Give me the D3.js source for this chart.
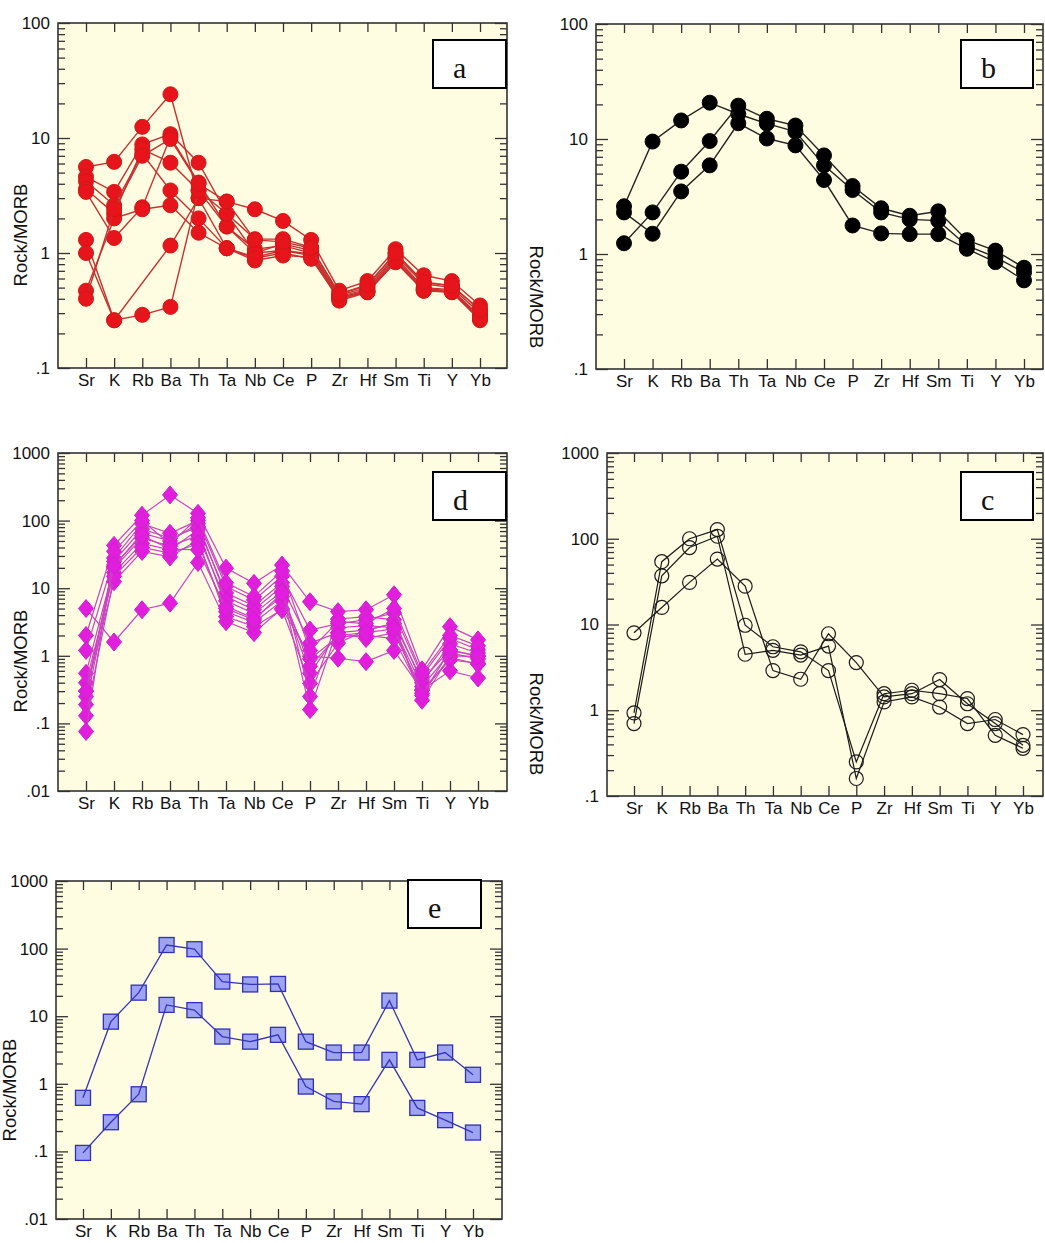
<!DOCTYPE html>
<html><head><meta charset="utf-8">
<script src="https://cdn.jsdelivr.net/npm/d3@7"></script>
<style>html,body{margin:0;padding:0;background:#fff;} svg{display:block}</style>
</head><body>
<svg id="chart" width="1045" height="1243"></svg>
<script>
// ---------------- DATA ----------------
const categories = ["Sr","K","Rb","Ba","Th","Ta","Nb","Ce","P","Zr","Hf","Sm","Ti","Y","Yb"];

// Panel a (red filled circles)
const seriesA = [
  [5.6, 6.2, 12.5, 24, 3.0, 2.8, 2.4, 1.9, 1.3, 0.47, 0.57, 1.08, 0.64, 0.57, 0.35],
  [4.6, 3.4, 8.8, 10.8, 6.1, 2.2, 1.32, 1.32, 1.12, 0.44, 0.52, 1.0, 0.55, 0.52, 0.32],
  [4.2, 2.6, 7.3, 3.5, 2.0, 1.1, 0.92, 1.05, 0.98, 0.40, 0.46, 0.85, 0.47, 0.46, 0.27],
  [3.6, 2.2, 8.0, 6.1, 3.5, 1.7, 1.08, 1.16, 1.0, 0.43, 0.50, 0.95, 0.54, 0.50, 0.30],
  [3.4, 1.35, 2.5, 10.2, 4.1, 1.7, 1.0, 1.2, 1.05, 0.42, 0.48, 0.92, 0.50, 0.48, 0.28],
  [1.3, 0.26, null, 1.16, 3.0, 1.1, 0.86, 0.95, 0.92, 0.385, 0.455, 0.83, 0.47, 0.455, 0.26],
  [1.0, 0.26, 0.29, 0.34, 3.5, 2.2, 1.0, 1.05, 0.95, 0.41, 0.47, 0.88, 0.49, 0.47, 0.28],
  [0.47, 2.0, 2.4, 2.6, 1.5, 1.1, 0.9, 1.0, 0.89, 0.40, 0.46, 0.85, 0.48, 0.46, 0.27],
  [0.40, 2.4, 7.0, 9.8, 4.0, 2.8, 1.3, 1.25, 1.1, 0.44, 0.53, 1.0, 0.56, 0.52, 0.32]
];

// Panel b (black filled circles)
const seriesB = [
  [2.6, 9.5, 14.5, 20.7, 16.5, 13.6, 11.6, 5.9, 3.6, 2.3, 2.0, 1.95, 1.18, 0.94, 0.69],
  [2.3, 1.5, 3.5, 5.9, 13.7, 10.1, 8.8, 4.4, 1.77, 1.51, 1.49, 1.49, 1.11, 0.85, 0.59],
  [1.24, 2.3, 5.2, 9.6, 19.5, 15.0, 13.1, 7.2, 3.9, 2.5, 2.15, 2.35, 1.32, 1.07, 0.76]
];

// Panel d (magenta diamonds)
const seriesD = [
  [5.0, 1.6, 4.8, 6.0, 24, 3.2, 2.2, 5.0, 0.98, 0.92, 0.82, 1.2, 0.31, 0.6, 0.47],
  [2.0, 43, 120, 240, 128, 19.8, 11.8, 22, 6.3, 4.5, 4.8, 8.0, 0.62, 2.7, 1.72],
  [1.2, 28, 90, 65, 100, 10.6, 6.7, 15, 2.4, 3.0, 3.4, 4.3, 0.5, 1.8, 1.23],
  [0.55, 21, 65, 50, 90, 7.5, 4.8, 10.6, 1.54, 2.2, 2.4, 3.0, 0.44, 1.23, 0.98],
  [0.4, 17, 46, 37, 73, 5.4, 3.6, 7.5, 0.55, 2.2, 1.8, 2.2, 0.31, 0.87, 0.78],
  [0.3, 12.5, 35, 29, 52, 3.8, 2.7, 4.8, 0.39, 1.54, 2.4, 3.0, 0.22, 1.0, 0.98],
  [0.25, 25, 75, 55, 80, 8.5, 5.5, 12, 0.25, 3.5, 3.8, 3.4, 0.4, 1.5, 1.1],
  [0.19, 20, 55, 42, 60, 6.5, 4.2, 9.0, 0.16, 2.6, 2.8, 2.6, 0.35, 1.1, 0.9],
  [0.13, 15, 40, 33, 45, 4.5, 3.1, 6.5, 0.9, 1.9, 2.0, 1.8, 0.28, 0.95, 0.75],
  [0.076, 35, 100, 45, 110, 12, 7.5, 18, 1.2, 3.2, 3.0, 5.0, 0.55, 2.0, 1.4],
  [0.3, 22, 60, 38, 37, 5.0, 3.4, 8.5, 0.7, 2.0, 2.2, 2.5, 0.26, 1.2, 1.0]
];

// Panel c (open black circles)
const seriesC = [
  [8.0, 15.8, 31, 58, 28, 2.9, 2.3, 7.8, 3.6, 1.43, 1.56, 2.28, 1.19, 0.70, 0.39],
  [0.93, 54, 100, 128, 9.8, 5.5, 4.8, 2.9, 0.25, 1.56, 1.71, 1.56, 1.37, 0.51, 0.36],
  [0.70, 37, 79, 107, 4.5, 5.0, 4.4, 5.6, 0.16, 1.25, 1.43, 1.09, 0.70, 0.78, 0.52]
];

// Panel e (blue squares)
const seriesE = [
  [0.62, 8.3, 22.3, 113, 98, 32.5, 29.5, 30, 4.2, 2.9, 2.9, 17.0, 2.26, 2.9, 1.36],
  [0.095, 0.27, 0.70, 14.7, 12.3, 5.0, 4.2, 5.3, 0.91, 0.55, 0.50, 2.26, 0.44, 0.29, 0.19]
];

// Tick labels
const ticksAB = [0.1, 1, 10, 100];
const tickLabelsAB = [".1", "1", "10", "100"];
const ticksDE = [0.01, 0.1, 1, 10, 100, 1000];
const tickLabelsDE = [".01", ".1", "1", "10", "100", "1000"];
const ticksC = [0.1, 1, 10, 100, 1000];
const tickLabelsC = [".1", "1", "10", "100", "1000"];

const yTitle = "Rock/MORB";
const panelLetters = ["a", "b", "d", "c", "e"];

// ---------------- LAYOUT ----------------
const panels = [
  { letter: panelLetters[0], series: seriesA, ticks: ticksAB, labels: tickLabelsAB,
    frame: {x0: 58, x1: 507, y0: 23, y1: 368}, cat: [86, 480],
    box: {x: 433, y: 40, w: 73, h: 48}, ylab: {x: 20, y: 235, rot: -90},
    marker: "circle", r: 7.5, fill: "#e8141b", stroke: "#d01818", line: "#c83030", lw: 1.4, linesOnTop: false },
  { letter: panelLetters[1], series: seriesB, ticks: ticksAB, labels: tickLabelsAB,
    frame: {x0: 596, x1: 1043, y0: 24, y1: 369}, cat: [624, 1024],
    box: {x: 961, y: 40, w: 72, h: 48}, ylab: {x: 536, y: 297, rot: 90},
    marker: "circle", r: 7.5, fill: "#000", stroke: "#000", line: "#222", lw: 1.4, linesOnTop: false },
  { letter: panelLetters[2], series: seriesD, ticks: ticksDE, labels: tickLabelsDE,
    frame: {x0: 58, x1: 507, y0: 453, y1: 791}, cat: [86, 478],
    box: {x: 433, y: 472, w: 73, h: 48}, ylab: {x: 20, y: 661, rot: -90},
    marker: "diamond", fill: "#e21ede", stroke: "#d020cc", line: "#c845c2", lw: 1.2, linesOnTop: false },
  { letter: panelLetters[3], series: seriesC, ticks: ticksC, labels: tickLabelsC,
    frame: {x0: 607, x1: 1043, y0: 453, y1: 796}, cat: [634, 1023],
    box: {x: 961, y: 472, w: 72, h: 48}, ylab: {x: 536, y: 724, rot: 90},
    marker: "open", r: 7, fill: "none", stroke: "#1a1a1a", line: "#1a1a1a", lw: 1.2, linesOnTop: false },
  { letter: panelLetters[4], series: seriesE, ticks: ticksDE, labels: tickLabelsDE,
    frame: {x0: 56, x1: 502, y0: 881, y1: 1219}, cat: [83, 473],
    box: {x: 408, y: 880, w: 73, h: 48}, ylab: {x: 9, y: 1090, rot: -90},
    marker: "square", fill: "#9ea3f2", stroke: "#2f2fb8", line: "#3535b5", lw: 1.3, linesOnTop: true }
];

// ---------------- DRAW ----------------
const SANS = "'Liberation Sans', Arial, Helvetica, sans-serif";
const SERIF = "'Liberation Serif', 'Times New Roman', serif";
const BG = "#fffde1";
const AX = "#333";
const svg = d3.select("#chart");

function styleAxis(sel, fontSize) {
  sel.select(".domain").remove();
  sel.selectAll("line").attr("stroke", AX).attr("stroke-width", 1.3);
  sel.attr("font-family", SANS).attr("font-size", fontSize);
  sel.selectAll("text").attr("fill", "#111");
}

panels.forEach(p => {
  const f = p.frame;
  const g = svg.append("g");
  const dom = [p.ticks[0], p.ticks[p.ticks.length - 1]];
  const x = d3.scalePoint().domain(categories).range(p.cat);
  const y = d3.scaleLog().domain(dom).range([f.y1, f.y0]);

  g.append("rect").attr("x", f.x0).attr("y", f.y0)
    .attr("width", f.x1 - f.x0).attr("height", f.y1 - f.y0).attr("fill", BG);

  const minors = [];
  const e0 = Math.round(Math.log10(dom[0])), e1 = Math.round(Math.log10(dom[1]));
  for (let e = e0; e < e1; e++) for (let k = 2; k <= 9; k++) minors.push(k * Math.pow(10, e));

  const lab = new Map(p.ticks.map((t, i) => [t, p.labels[i]]));
  g.append("g").attr("transform", `translate(${f.x0},0)`)
    .call(d3.axisLeft(y).tickValues(p.ticks).tickSize(-12).tickPadding(8).tickFormat(d => lab.get(d)))
    .call(s => styleAxis(s, 17));
  g.append("g").attr("transform", `translate(${f.x0},0)`)
    .call(d3.axisLeft(y).tickValues(minors).tickSize(-7).tickFormat(""))
    .call(s => styleAxis(s, 17));
  g.append("g").attr("transform", `translate(${f.x1},0)`)
    .call(d3.axisRight(y).tickValues(p.ticks).tickSize(-12).tickFormat(""))
    .call(s => styleAxis(s, 17));
  g.append("g").attr("transform", `translate(${f.x1},0)`)
    .call(d3.axisRight(y).tickValues(minors).tickSize(-7).tickFormat(""))
    .call(s => styleAxis(s, 17));
  g.append("g").attr("transform", `translate(0,${f.y0})`)
    .call(d3.axisTop(x).tickSize(-9).tickFormat(""))
    .call(s => styleAxis(s, 17));
  g.append("g").attr("transform", `translate(0,${f.y1})`)
    .call(d3.axisBottom(x).tickSize(-10).tickPadding(6))
    .call(s => styleAxis(s, 17));

  g.append("text")
    .attr("transform", `translate(${p.ylab.x},${p.ylab.y}) rotate(${p.ylab.rot})`)
    .attr("text-anchor", "middle").attr("dominant-baseline", "central")
    .attr("font-family", SANS).attr("font-size", 18.5).attr("fill", "#111")
    .text(yTitle);

  const line = d3.line().x(d => x(d.c)).y(d => y(d.v));
  const plot = g.append("g");
  p.series.forEach(s => {
    const pts = categories.map((c, i) => ({c, v: s[i]})).filter(d => d.v != null);
    const drawLine = () => plot.append("path").datum(pts).attr("d", line)
      .attr("fill", "none").attr("stroke", p.line).attr("stroke-width", p.lw);
    const drawMarks = () => {
      const m = plot.append("g").selectAll("g").data(pts).join("g")
        .attr("transform", d => `translate(${x(d.c)},${y(d.v)})`);
      if (p.marker === "circle" || p.marker === "open") {
        m.append("circle").attr("r", p.r).attr("fill", p.fill)
          .attr("stroke", p.stroke).attr("stroke-width", p.marker === "open" ? 1.2 : 1);
      } else if (p.marker === "diamond") {
        m.append("path").attr("d", "M0,-9L7.5,0L0,9L-7.5,0Z")
          .attr("fill", p.fill).attr("stroke", p.stroke).attr("stroke-width", 1);
      } else {
        m.append("rect").attr("x", -7.5).attr("y", -7.5).attr("width", 15).attr("height", 15)
          .attr("fill", p.fill).attr("stroke", p.stroke).attr("stroke-width", 1.3);
      }
    };
    if (p.linesOnTop) { drawMarks(); drawLine(); } else { drawLine(); drawMarks(); }
  });

  g.append("rect").attr("x", f.x0).attr("y", f.y0)
    .attr("width", f.x1 - f.x0).attr("height", f.y1 - f.y0)
    .attr("fill", "none").attr("stroke", AX).attr("stroke-width", 1.6);

  const b = p.box;
  g.append("rect").attr("x", b.x).attr("y", b.y).attr("width", b.w).attr("height", b.h)
    .attr("fill", "#fff").attr("stroke", "#000").attr("stroke-width", 2);
  g.append("text").attr("x", b.x + 20).attr("y", b.y + 38)
    .attr("font-family", SERIF).attr("font-size", 30).attr("fill", "#111")
    .text(p.letter);
});
</script>
</body></html>
